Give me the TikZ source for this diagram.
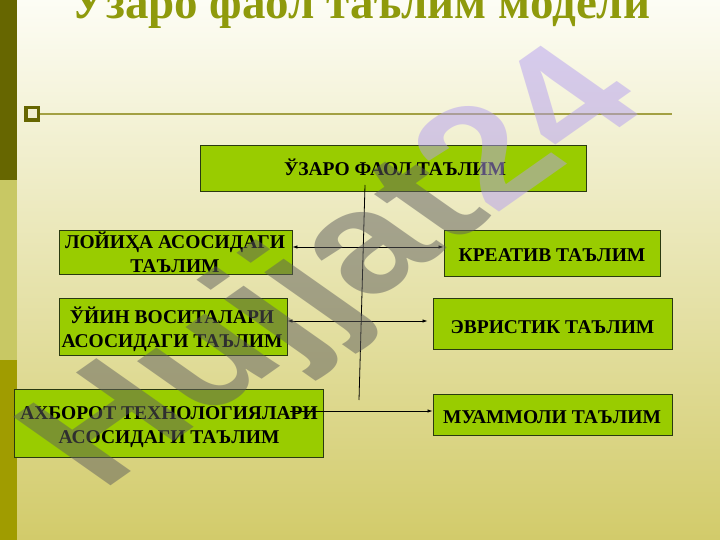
\documentclass[tikz,border=0pt]{standalone}
\usepackage{fontspec}
\setmainfont{Liberation Serif}
\newfontfamily\wmfont{Liberation Sans}
\usetikzlibrary{arrows.meta}
\definecolor{bgtop}{HTML}{FDFDF5}
\definecolor{bgbot}{HTML}{D2CB6A}
\definecolor{barA}{HTML}{666600}
\definecolor{barB}{HTML}{C8C864}
\definecolor{barC}{HTML}{A09C00}
\definecolor{titlecol}{HTML}{8F9A0C}
\definecolor{rulecol}{HTML}{A3A043}
\definecolor{bulletin}{HTML}{F2F0D0}
\definecolor{boxfill}{HTML}{99CC00}
\definecolor{boxline}{HTML}{2A3A10}
\definecolor{wmgray}{HTML}{5E5E5E}
\definecolor{wmlav}{HTML}{B49EF0}
\tikzset{
  boxrect/.style={draw=boxline, fill=boxfill, line width=0.9pt, inner sep=0pt},
  boxtext/.style={font=\fontsize{19.5}{24}\selectfont\bfseries, align=center, inner sep=0pt, text=black, anchor=base},
  conn/.style={line width=0.8pt, draw=black},
  tipend/.style={-{Latex[length=5pt,width=3.5pt]}},
  tipboth/.style={{Latex[length=5pt,width=3.5pt]}-{Latex[length=5pt,width=3.5pt]}},
}
\begin{document}
\begin{tikzpicture}[x=1pt,y=-1pt]
\useasboundingbox (0,0) rectangle (720,540);
\clip (0,0) rectangle (720,540);
\shade[top color=bgtop, bottom color=bgbot] (0,0) rectangle (720,540);
\fill[barA] (0,0) rectangle (17,180);
\fill[barB] (0,180) rectangle (17,360);
\fill[barC] (0,360) rectangle (17,540);

\node[anchor=base, font=\fontsize{47}{47}\selectfont\bfseries, text=titlecol, inner sep=0pt] (title) at (361,19) {Ўзаро фаол таълим модели};

\node[draw=barA, fill=bulletin, line width=3.5pt, minimum size=12.5pt, inner sep=0pt] (bullet) at (32,114) {};
\coordinate (ruleend) at (672,114);
\draw[rulecol, line width=2pt] (bullet.east) -- (ruleend);

% boxes
\node[boxrect, minimum width=386pt, minimum height=46pt] (uzaro) at (393,168) {};
\node[boxrect, minimum width=233pt, minimum height=44pt] (lojiha) at (175.5,252) {};
\node[boxrect, minimum width=228pt, minimum height=57pt] (ujin) at (173,326.5) {};
\node[boxrect, minimum width=309pt, minimum height=68pt] (axborot) at (168.5,423) {};
\node[boxrect, minimum width=216pt, minimum height=46pt] (kreativ) at (552,253) {};
\node[boxrect, minimum width=239pt, minimum height=51pt] (evristik) at (552.5,323.5) {};
\node[boxrect, minimum width=239pt, minimum height=41pt] (muammoli) at (552.5,414.5) {};

% texts (base anchor = last line's baseline)
\node[boxtext] (tuzaro) at (395,176) {ЎЗАРО ФАОЛ ТАЪЛИМ};
\node[boxtext] (tlojiha) at (175,272) {ЛОЙИҲА АСОСИДАГИ\\ТАЪЛИМ};
\node[boxtext] (tujin) at (172,347) {ЎЙИН ВОСИТАЛАРИ\\АСОСИДАГИ ТАЪЛИМ};
\node[boxtext] (taxborot) at (169,443) {АХБОРОТ ТЕХНОЛОГИЯЛАРИ\\АСОСИДАГИ ТАЪЛИМ};
\node[boxtext] (tkreativ) at (552,261) {КРЕАТИВ ТАЪЛИМ};
\node[boxtext] (tevristik) at (552.5,333) {ЭВРИСТИК ТАЪЛИМ};
\node[boxtext] (tmuammoli) at (552,423) {МУАММОЛИ ТАЪЛИМ};

% connectors
\coordinate (vtop) at (365,185);
\coordinate (vbot) at (359,400);
\draw[conn] (vtop) -- (vbot);
\coordinate (r1a) at ([yshift=5pt]lojiha.east);
\draw[conn, tipboth] (r1a) -- (r1a -| kreativ.west);
\coordinate (r2a) at ([yshift=5.5pt]ujin.east);
\coordinate (r2b) at ([xshift=-5pt]r2a -| evristik.west);
\draw[conn, tipboth] (r2a) -- (r2b);
\coordinate (r3a) at ([xshift=-33pt,yshift=12pt]axborot.east);
\draw[conn, tipend] (r3a) -- (r3a -| muammoli.west);

% watermark
\node[xscale=1.42, rotate=45, text opacity=0.5, font=\wmfont\bfseries\fontsize{141}{141}\selectfont, inner sep=0pt] (wm) at (340,273) {\textcolor{wmgray}{Hujjat}\textcolor{wmlav}{24}};
\end{tikzpicture}
\end{document}
